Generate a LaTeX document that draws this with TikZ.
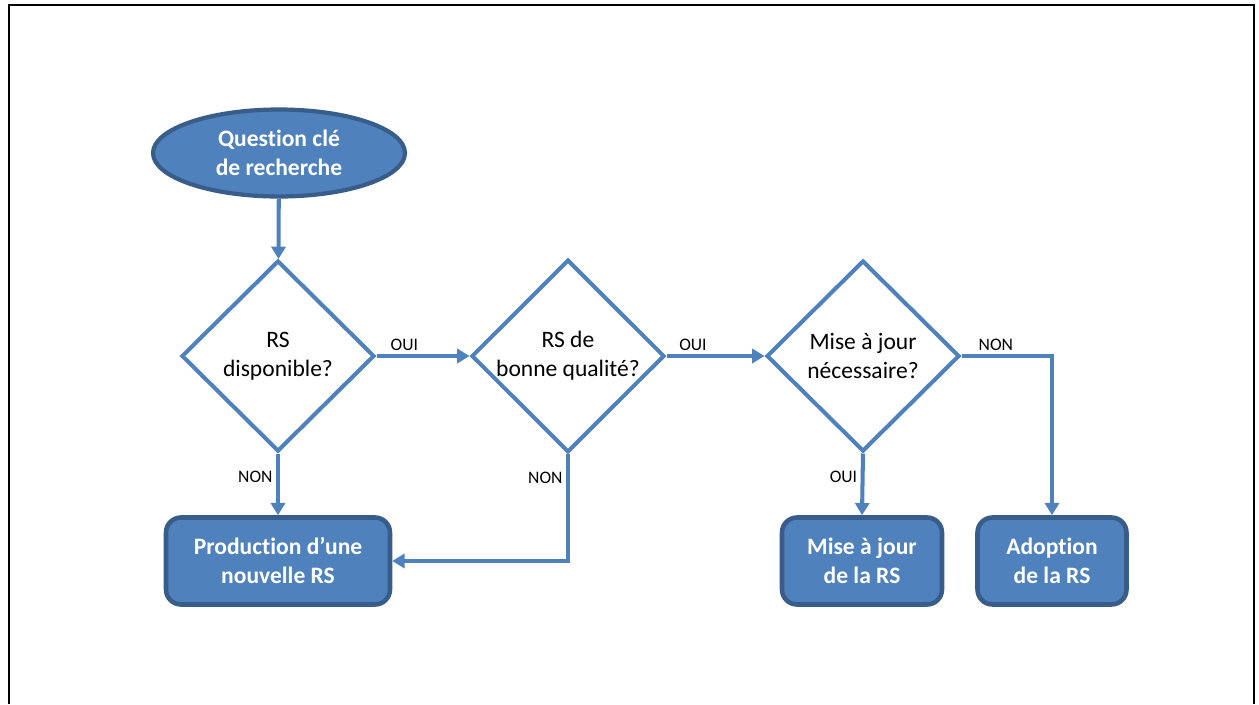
\documentclass[tikz,border=0pt]{standalone}
\usepackage{fontspec}
\setmainfont{Carlito}[RawFeature={-liga;-clig;-calt;-dlig}]
\usepackage{xcolor}
\usepackage{tikz}
\usetikzlibrary{arrows.meta,shapes.geometric}
\definecolor{shapefill}{HTML}{4F81BD}
\definecolor{shapeborder}{HTML}{385D8A}
\tikzset{start/.style={ellipse,draw=shapeborder,fill=shapefill,line width=2.4pt,minimum width=50.4mm,minimum height=17.4mm,inner sep=0pt,text=white,font=\fontsize{13.4}{16.5}\selectfont\bfseries,align=center},decision/.style={diamond,draw=shapefill,fill=white,line width=2.3pt,minimum width=38.6mm,minimum height=38.2mm,inner sep=0pt,font=\fontsize{13.4}{16.5}\selectfont,align=center},result/.style={rectangle,rounded corners=3mm,draw=shapeborder,fill=shapefill,line width=2.6pt,minimum height=17.4mm,inner sep=0pt,text=white,font=\fontsize{13.4}{16.5}\selectfont\bfseries,align=center},flow edge/.style={-{Triangle[length=7pt,width=8pt]},draw=shapefill,line width=2.3pt},edge label/.style={font=\fontsize{10}{12}\selectfont,text=black,inner sep=2pt},frame/.style={draw=black,line width=1.1pt}}

\begin{document}
\begin{tikzpicture}[x=0.02cm,y=-0.02cm]
 \useasboundingbox (0,0) rectangle (1259,704);
 \draw[frame] (9,704) -- (9,5) -- (1254,5) -- (1254,704);
 \node[start] (question) at (279,153) {Quest\kern0pt ion clé\\de recherche};
 \node[decision] (dispo) at (278,356) {RS\\disponible?};
 \node[decision] (qualite) at (568,356) {RS de\\bonne qualité?};
 \node[decision] (majnec) at (863,356) {Mise à jour\\nécessaire?};
 \node[result,minimum width=44.8mm] (production) at (278,561) {Product\kern0pt ion d’une\\nouvelle RS};
 \node[result,minimum width=32mm] (miseajour) at (862,561) {Mise à jour\\de la RS};
 \node[result,minimum width=29.8mm] (adoption) at (1052,561) {Adoption\\de la RS};
 \draw[flow edge] (question) -- (dispo);
 \draw[flow edge] (dispo.east) -- node[edge label,above,pos=.3] {OUI} (qualite.west);
 \draw[flow edge] (qualite.east) -- node[edge label,above,pos=.27] {OUI} (majnec.west);
 \draw[flow edge] (majnec.east) -| node[edge label,above,pos=.19] {NON} (adoption.north);
 \draw[flow edge] (dispo.south) -- node[edge label,left,pos=.38] {NON} (production.north);
 \draw[flow edge] (qualite.south) |- node[edge label,left,pos=.11] {NON} (production.east);
 \draw[flow edge] (majnec.south) -- node[edge label,left,pos=.38] {OUI} (miseajour.north);
\end{tikzpicture}
\end{document}
